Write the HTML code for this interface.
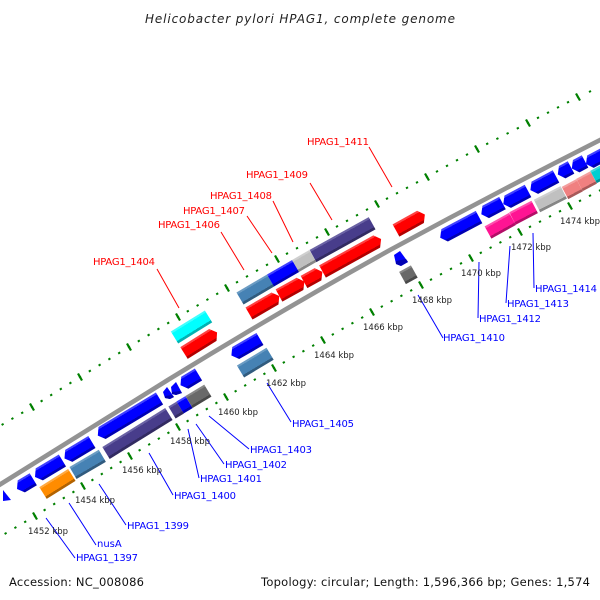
<!DOCTYPE html>
<html><head><meta charset="utf-8"><style>
html,body{margin:0;padding:0;background:#fff}
svg{display:block}
text{font-family:"DejaVu Sans","Liberation Sans",sans-serif}
.k{font-size:8.5px;fill:#222}
.b{font-size:10px;fill:#00f}
.r{font-size:10px;fill:#f00}
</style></head><body>
<svg width="600" height="600" viewBox="0 0 600 600" xmlns="http://www.w3.org/2000/svg">
<defs>
<linearGradient id="blue" x1="0" y1="0" x2="0" y2="1"><stop offset=".15" stop-color="#4040ff"/><stop offset=".15" stop-color="#00f"/><stop offset=".81" stop-color="#00f"/><stop offset=".81" stop-color="#0000b2"/></linearGradient>
<linearGradient id="red" x1="0" y1="0" x2="0" y2="1"><stop offset=".15" stop-color="#ff4040"/><stop offset=".15" stop-color="#f00"/><stop offset=".81" stop-color="#f00"/><stop offset=".81" stop-color="#b20000"/></linearGradient>
<linearGradient id="steel" x1="0" y1="0" x2="0" y2="1"><stop offset=".15" stop-color="#6a9bc3"/><stop offset=".15" stop-color="#4682b4"/><stop offset=".81" stop-color="#4682b4"/><stop offset=".81" stop-color="#315b7e"/></linearGradient>
<linearGradient id="purple" x1="0" y1="0" x2="0" y2="1"><stop offset=".15" stop-color="#6a62a4"/><stop offset=".15" stop-color="#483d8b"/><stop offset=".81" stop-color="#483d8b"/><stop offset=".81" stop-color="#322a61"/></linearGradient>
<linearGradient id="silver" x1="0" y1="0" x2="0" y2="1"><stop offset=".15" stop-color="#cfcfcf"/><stop offset=".15" stop-color="#c0c0c0"/><stop offset=".81" stop-color="#c0c0c0"/><stop offset=".81" stop-color="#868686"/></linearGradient>
<linearGradient id="dim" x1="0" y1="0" x2="0" y2="1"><stop offset=".15" stop-color="#878787"/><stop offset=".15" stop-color="#696969"/><stop offset=".81" stop-color="#696969"/><stop offset=".81" stop-color="#494949"/></linearGradient>
<linearGradient id="orange" x1="0" y1="0" x2="0" y2="1"><stop offset=".15" stop-color="#ffa940"/><stop offset=".15" stop-color="#ff8c00"/><stop offset=".81" stop-color="#ff8c00"/><stop offset=".81" stop-color="#b26200"/></linearGradient>
<linearGradient id="pink" x1="0" y1="0" x2="0" y2="1"><stop offset=".15" stop-color="#ff4fae"/><stop offset=".15" stop-color="#ff1493"/><stop offset=".81" stop-color="#ff1493"/><stop offset=".81" stop-color="#b20e67"/></linearGradient>
<linearGradient id="salmon" x1="0" y1="0" x2="0" y2="1"><stop offset=".15" stop-color="#f39f9f"/><stop offset=".15" stop-color="#f08080"/><stop offset=".81" stop-color="#f08080"/><stop offset=".81" stop-color="#a85959"/></linearGradient>
<linearGradient id="cyan" x1="0" y1="0" x2="0" y2="1"><stop offset=".15" stop-color="#40ffff"/><stop offset=".15" stop-color="#0ff"/><stop offset=".81" stop-color="#0ff"/><stop offset=".81" stop-color="#00b2b2"/></linearGradient>
<linearGradient id="turq" x1="0" y1="0" x2="0" y2="1"><stop offset=".15" stop-color="#40dadd"/><stop offset=".15" stop-color="#00ced1"/><stop offset=".81" stop-color="#00ced1"/><stop offset=".81" stop-color="#009092"/></linearGradient>
</defs>

<text x="300" y="23" text-anchor="middle" font-size="12" font-style="italic" fill="#222" textLength="310" lengthAdjust="spacing">Helicobacter pylori HPAG1, complete genome</text>

<!-- backbone -->
<path d="M-4 487 L167 380.500 Q280 311 390 250 Q495 193 604 138" fill="none" stroke="#939393" stroke-width="4.600"/>

<!-- ticks -->
<g fill="none" stroke="#008000" stroke-width="2" stroke-dasharray=".2 .8" stroke-dashoffset=".1">
<path pathLength="5" d="M-17 436L32 407"/><path pathLength="5" d="M32 407L80 377"/><path pathLength="5" d="M80 377L129 347"/><path pathLength="5" d="M129 347L178 317"/><path pathLength="5" d="M178 317L227 288"/><path pathLength="5" d="M227 288L277 259"/><path pathLength="5" d="M277 259L327 232"/><path pathLength="5" d="M327 232L377 204"/><path pathLength="5" d="M377 204L427 177"/><path pathLength="5" d="M427 177L477 149"/><path pathLength="5" d="M477 149L528 123"/><path pathLength="5" d="M528 123L578 97"/>
<path d="M589 92L591 91" stroke-dasharray="none"/>
<path pathLength="5" d="M-14 545L35 516"/><path pathLength="5" d="M35 516L83 486"/><path pathLength="5" d="M83 486L130 456"/><path pathLength="5" d="M130 456L178 427"/><path pathLength="5" d="M178 427L226 397"/><path pathLength="5" d="M226 397L274 368"/><path pathLength="5" d="M274 368L323 340"/><path pathLength="5" d="M323 340L372 312"/><path pathLength="5" d="M372 312L421 285"/><path pathLength="5" d="M421 285L471 258"/><path pathLength="5" d="M471 258L520 232"/><path pathLength="5" d="M520 232L570 206"/><path pathLength="5" d="M570 206L620 180"/>
</g>
<path fill="none" stroke="#008000" stroke-width="2.200" d="M30 403.500l4 7M78 373.500l4 7M127 343.500l4 7M176 313.500l4 7M225 284.500l4 7M275 255.500l4 7M325 228.500l4 7M375 200.500l4 7M425 173.500l4 7M475 145.500l4 7M526 119.500l4 7M576 93.500l4 7M33 512.500l4 7M81 482.500l4 7M128 452.500l4 7M176 423.500l4 7M224 393.500l4 7M272 364.500l4 7M321 336.500l4 7M370 308.500l4 7M419 281.500l4 7M469 254.500l4 7M518 228.500l4 7M568 202.500l4 7"/>

<!-- genes -->
<polygon points="3,490 11,500 3,501" fill="#00f"/>
<g transform="translate(17 489) rotate(-31)"><path d="M0 0L5-7H19V7H5Z" fill="url(#blue)"/></g>
<g transform="translate(35 477) rotate(-31)"><path d="M0 0L5-7H32V7H5Z" fill="url(#blue)"/></g>
<g transform="translate(64.500 458.500) rotate(-31)"><path d="M0 0L5-7H32V7H5Z" fill="url(#blue)"/></g>
<g transform="translate(97.800 435.600) rotate(-31)"><path d="M0 0L5-7H72V7H5Z" fill="url(#blue)"/></g>
<polygon points="163,392 167,387 174,397 170,399 165,398" fill="#00f"/>
<polygon points="165,396 172,395 174,397 170,399 165,398" fill="#0000b2"/>
<polygon points="171,387 176,382 182,393 176,395 172,394" fill="#00f"/>
<polygon points="172,392 180,391 182,393 176,395 172,394" fill="#0000b2"/>
<g transform="translate(180.500 385.300) rotate(-31)"><path d="M0 0L5-7H21V7H5Z" fill="url(#blue)"/></g>
<g transform="translate(189 402) rotate(-31)"><rect y="-7" width="22" height="14" fill="url(#dim)"/></g>
<g transform="translate(180 407.500) rotate(-31)"><rect y="-7" width="10.500" height="14" fill="url(#blue)"/></g>
<g transform="translate(172 412.500) rotate(-31)"><rect y="-7" width="9.500" height="14" fill="url(#purple)"/></g>
<g transform="translate(106 453) rotate(-31.800)"><rect y="-7" width="74" height="14" fill="url(#purple)"/></g>
<g transform="translate(73 473) rotate(-30.400)"><rect y="-7" width="34" height="14" fill="url(#steel)"/></g>
<g transform="translate(43 493) rotate(-32)"><rect y="-7" width="34" height="14" fill="url(#orange)"/></g>
<g transform="translate(184 353) rotate(-32)"><path d="M0-7H34L39 0L34 7H0Z" fill="url(#red)"/></g>
<g transform="translate(174.500 337.500) rotate(-31.700)"><rect y="-7" width="40" height="14" fill="url(#cyan)"/></g>
<g transform="translate(231.400 355.500) rotate(-30)"><path d="M0 0L5-7H33V7H5Z" fill="url(#blue)"/></g>
<g transform="translate(240.500 371.500) rotate(-31)"><rect y="-7" width="34.500" height="14" fill="url(#steel)"/></g>
<g transform="translate(240 298.500) rotate(-30.500)"><rect y="-7" width="35.500" height="14" fill="url(#steel)"/></g>
<g transform="translate(270.500 280.500) rotate(-30)"><rect y="-7" width="29" height="14" fill="url(#blue)"/></g>
<g transform="translate(295.500 266) rotate(-30)"><rect y="-7" width="20" height="14" fill="url(#silver)"/></g>
<g transform="translate(313 256) rotate(-29)"><rect y="-7" width="67.600" height="14" fill="url(#purple)"/></g>
<g transform="translate(249 313.500) rotate(-30)"><path d="M0-7H30L35 0L30 7H0Z" fill="url(#red)"/></g>
<g transform="translate(279 295.500) rotate(-29)"><path d="M0-7H24L29 0L24 7H0Z" fill="url(#red)"/></g>
<g transform="translate(304 282) rotate(-29)"><path d="M0-7H16L21 0L16 7H0Z" fill="url(#red)"/></g>
<g transform="translate(322.500 271.500) rotate(-29)"><path d="M0-7H62L67 0L62 7H0Z" fill="url(#red)"/></g>
<g transform="translate(396 230.500) rotate(-29)"><path d="M0-7H28L33 0L28 7H0Z" fill="url(#red)"/></g>
<polygon points="394,255 400,251 408,262 401,266 396,264" fill="#00f"/>
<polygon points="396,261 406,259 408,262 401,266 396,264" fill="#0000b2"/>
<g transform="translate(402.500 278) rotate(-29)"><rect y="-7" width="13.500" height="14" fill="url(#dim)"/></g>
<g transform="translate(440.200 237.700) rotate(-28)"><path d="M0 0L5-7H44V7H5Z" fill="url(#blue)"/></g>
<g transform="translate(481.300 214.300) rotate(-28)"><path d="M0 0L5-7H24V7H5Z" fill="url(#blue)"/></g>
<g transform="translate(503.300 204.100) rotate(-28)"><path d="M0 0L5-7H28V7H5Z" fill="url(#blue)"/></g>
<g transform="translate(530.400 190.100) rotate(-28)"><path d="M0 0L5-7H29V7H5Z" fill="url(#blue)"/></g>
<g transform="translate(557.800 174.500) rotate(-28)"><path d="M0 0L5-7H15V7H5Z" fill="url(#blue)"/></g>
<g transform="translate(571.800 168.500) rotate(-28)"><path d="M0 0L5-7H15V7H5Z" fill="url(#blue)"/></g>
<g transform="translate(586 164) rotate(-28)"><path d="M0 0L5-7H22V7H5Z" fill="url(#blue)"/></g>
<g transform="translate(488 232.500) rotate(-29)"><rect y="-7" width="28" height="14" fill="url(#pink)"/></g>
<g transform="translate(512.500 218.500) rotate(-27.500)"><rect y="-7" width="25" height="14" fill="url(#pink)"/></g>
<g transform="translate(537 206) rotate(-27)"><rect y="-7" width="30" height="14" fill="url(#silver)"/></g>
<g transform="translate(565 193) rotate(-28)"><rect y="-7" width="16.500" height="14" fill="url(#salmon)"/></g>
<g transform="translate(579.500 185) rotate(-28)"><rect y="-7" width="16" height="14" fill="url(#salmon)"/></g>
<g transform="translate(593.500 177) rotate(-28)"><rect y="-7" width="15" height="14" fill="url(#turq)"/></g>

<!-- connectors -->
<path fill="none" stroke="#00f" d="M46 518L75 558M69 503L96 545M99 484L126 525M149 453L173 495M188 429L199 478M196 424L224 464M209 416L249 449M267 383L291 422M418 295L443 338M479 262L478 318M510 246L506 303M533 233L534 288"/>
<path fill="none" stroke="#f00" d="M157 269L179 308M221 232L244 270M247 216L272 253M273 201L293 242M310 183L332 220M369 147L392 187"/>

<!-- labels -->
<text class="k" x="28" y="534">1452 kbp</text><text class="k" x="75" y="503">1454 kbp</text><text class="k" x="122" y="473">1456 kbp</text><text class="k" x="170" y="444">1458 kbp</text><text class="k" x="218" y="415">1460 kbp</text><text class="k" x="266" y="386">1462 kbp</text><text class="k" x="314" y="358">1464 kbp</text><text class="k" x="363" y="330">1466 kbp</text><text class="k" x="412" y="303">1468 kbp</text><text class="k" x="461" y="276">1470 kbp</text><text class="k" x="511" y="250">1472 kbp</text><text class="k" x="560" y="224">1474 kbp</text>
<text class="b" x="76" y="561" textLength="62">HPAG1_1397</text>
<text class="b" x="97" y="547">nusA</text>
<text class="b" x="127" y="529" textLength="62">HPAG1_1399</text>
<text class="b" x="174" y="499" textLength="62">HPAG1_1400</text>
<text class="b" x="200" y="482" textLength="62">HPAG1_1401</text>
<text class="b" x="225" y="468" textLength="62">HPAG1_1402</text>
<text class="b" x="250" y="453" textLength="62">HPAG1_1403</text>
<text class="b" x="292" y="427" textLength="62">HPAG1_1405</text>
<text class="b" x="443" y="341" textLength="62">HPAG1_1410</text>
<text class="b" x="479" y="322" textLength="62">HPAG1_1412</text>
<text class="b" x="507" y="307" textLength="62">HPAG1_1413</text>
<text class="b" x="535" y="292" textLength="62">HPAG1_1414</text>
<text class="r" x="93" y="265" textLength="62">HPAG1_1404</text>
<text class="r" x="158" y="228" textLength="62">HPAG1_1406</text>
<text class="r" x="183" y="214" textLength="62">HPAG1_1407</text>
<text class="r" x="210" y="199" textLength="62">HPAG1_1408</text>
<text class="r" x="246" y="178" textLength="62">HPAG1_1409</text>
<text class="r" x="307" y="145" textLength="62">HPAG1_1411</text>

<text x="9" y="586" font-size="11.500" fill="#111" textLength="135">Accession: NC_008086</text>
<text x="261" y="586" font-size="11.500" fill="#111" textLength="329">Topology: circular; Length: 1,596,366 bp; Genes: 1,574</text>
</svg>
</body></html>
